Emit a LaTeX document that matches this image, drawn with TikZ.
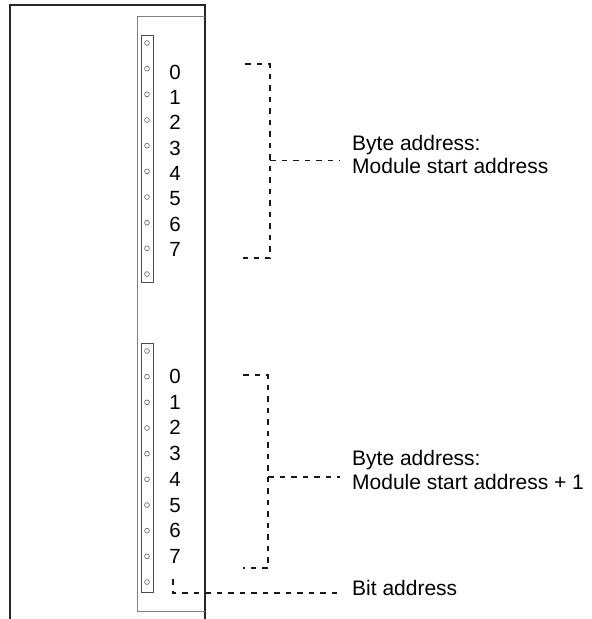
\documentclass[tikz,border=0pt]{standalone}
\usepackage{fontspec}
\setmainfont{Liberation Sans}
\begin{document}
\begin{tikzpicture}[x=1pt,y=-1pt,
  frame/.style={line width=1.3pt, draw=black!85},
  panel/.style={line width=0.9pt, draw=black!50},
  strip/.style={draw=black!70, line width=0.8pt, inner sep=0pt, minimum width=12pt, minimum height=247pt},
  led/.style={circle, draw=black!65, line width=0.6pt, minimum size=4.8pt, inner sep=0pt},
  digit/.style={font=\fontsize{20.5}{24}\selectfont, inner sep=0pt, anchor=base},
  lbl/.style={font=\fontsize{21}{24}\selectfont, inner sep=0pt, anchor=base west},
  dline/.style={line width=1.2pt, draw=black!90, dash pattern=on 5.5pt off 6pt}
]
\useasboundingbox (0,0) rectangle (592,619);
% outer housing and inner panel
\draw[frame] (10,619) -- (10,5) -- (205,5) -- (205,619);
\draw[panel] (205,16) -- (137,16) -- (137,611) -- (205,611);
% LED strips
\node[strip] (strip1) at (147,158.5) {};
\node[strip, minimum height=249pt] (strip2) at (147,467.5) {};
\foreach \i in {0,...,9} {
  \node[led] (la\i) at (147,{43+25.67*\i}) {};
  \node[led] (lb\i) at (147,{351+25.67*\i}) {};
}
\foreach \d in {0,...,7} {
  \node[digit] (da\d) at (175,{79.3+25.3*\d}) {\d};
  \node[digit] (db\d) at (175,{383.5+25.7*\d}) {\d};
}
% labels
\node[lbl] (l1a) at (352,150) {Byte address:};
\node[lbl] (l1b) at (352,173) {Module start address};
\node[lbl] (l2a) at (352,465) {Byte address:};
\node[lbl] (l2b) at (352,489) {Module start address + 1};
\node[lbl] (l3) at (352,595) {Bit address};
% bracket 1
\coordinate (b1t) at (245,64);
\coordinate (b1tr) at (270,64);
\coordinate (b1br) at (270,258);
\coordinate (b1b) at (243,258);
\coordinate (b1m) at (270,160.5);
\coordinate (b1e) at (340,160.5);
\draw[dline] (b1t) -- (b1tr) -- (b1br) -- (b1b);
\draw[dline] (b1m) -- (b1e);
% bracket 2
\coordinate (b2t) at (243,375);
\coordinate (b2tr) at (268,375);
\coordinate (b2br) at (268,568);
\coordinate (b2b) at (243,568);
\coordinate (b2m) at (268,477);
\coordinate (b2e) at (340,477);
\draw[dline] (b2t) -- (b2tr) -- (b2br) -- (b2b);
\draw[dline] (b2m) -- (b2e);
% bit address
\coordinate (bt) at (173,579);
\coordinate (bc) at (173,593);
\coordinate (be) at (340,593);
\draw[dline] (bt) -- (bc) -- (be);
\end{tikzpicture}
\end{document}
